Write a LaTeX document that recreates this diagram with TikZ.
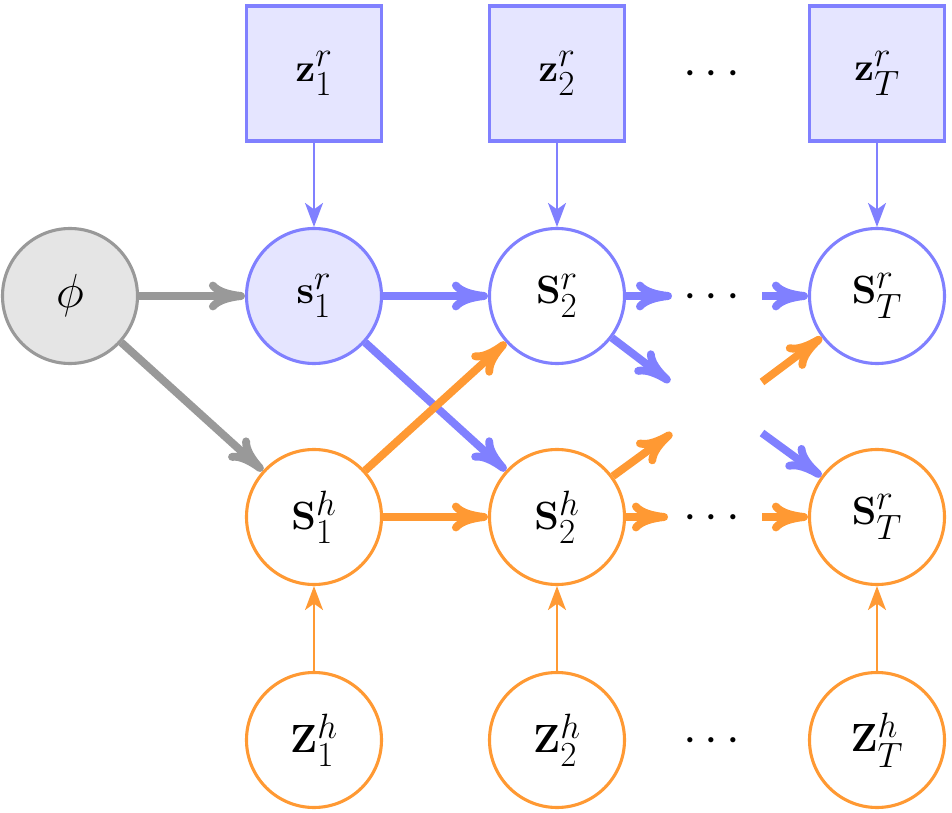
\documentclass[tikz,border=0pt]{standalone}
\usepackage{fix-cm}
\usepackage{amsmath}
\usepackage{xcolor}
\usepackage{tikz}
\usetikzlibrary{positioning}
\usetikzlibrary{arrows.meta}

\DeclareMathSizes{28}{28}{25}{18}
\DeclareMathSizes{34}{34}{27}{20}

\begin{document}
\begin{tikzpicture}[
    font=\fontsize{28}{33}\selectfont,
    prior/.style={
        circle,
        draw=black!40,
        fill=black!10,
        line width=2.2pt,
        minimum size=3.375cm,
        inner sep=0pt,
        font=\fontsize{34}{40}\selectfont
    },
    robs/.style={
        draw=blue!50,
        fill=blue!10,
        line width=2.2pt,
        minimum size=3.375cm,
        inner sep=0pt
    },
    rstate/.style={
        circle,
        draw=blue!50,
        line width=2.2pt,
        minimum size=3.375cm,
        inner sep=0pt
    },
    hstate/.style={
        circle,
        draw=orange!80,
        line width=2.2pt,
        minimum size=3.375cm,
        inner sep=0pt
    },
    ellip/.style={
        font=\fontsize{35}{40}\selectfont,
        text height=17.5pt,
        text depth=0pt,
        inner sep=0pt
    },
    flow/.style={
        line width=5.6pt,
        -{To[length=0.9cm,width=0.72cm]}
    },
    feed/.style={
        line width=1.5pt,
        -{Stealth[length=0.6cm,width=0.45cm,inset=0.16cm]}
    }
]
\useasboundingbox (0,0) rectangle (23.8,-20.325);

% --- Prior
\node[prior] (phi) at (1.75,-7.4) {$\phi$};

% --- Top row
\node[robs] (zr1) at (7.85,-1.8375) {$\mathbf{z}^r_1$};
\node[robs] (zr2) at (13.925,-1.8375) {$\mathbf{z}^r_2$};
\node[ellip] (zrdots) at (17.9,-1.8375) {$\cdots$};
\node[robs] (zrT) at (21.925,-1.8375) {$\mathbf{z}^r_T$};

% --- Robot row
\node[rstate, fill=blue!10] (sr1) at (7.85,-7.4) {$\mathbf{s}^r_1$};
\node[rstate] (sr2) at (13.925,-7.4) {$\mathbf{S}^r_2$};
\node[ellip] (srdots) at (17.9,-7.4) {$\cdots$};
\node[rstate] (srT) at (21.925,-7.4) {$\mathbf{S}^r_T$};

% --- Human row
\node[hstate] (sh1) at (7.85,-12.925) {$\mathbf{S}^h_1$};
\node[hstate] (sh2) at (13.925,-12.925) {$\mathbf{S}^h_2$};
\node[ellip] (shdots) at (17.9,-12.925) {$\cdots$};
\node[hstate] (shT) at (21.925,-12.925) {$\mathbf{S}^r_T$};

% --- Bottom row
\node[hstate] (zh1) at (7.85,-18.5) {$\mathbf{Z}^h_1$};
\node[hstate] (zh2) at (13.925,-18.5) {$\mathbf{Z}^h_2$};
\node[ellip] (zhdots) at (17.9,-18.5) {$\cdots$};
\node[hstate] (zhT) at (21.925,-18.5) {$\mathbf{Z}^h_T$};

% --- Loose ends around the dots
\coordinate (ra) at (16.8,-7.4);
\coordinate (rb) at (19.05,-7.4);
\coordinate (xa) at (16.75,-9.55);
\coordinate (xb) at (19.05,-9.55);
\coordinate (ya) at (16.8,-10.825);
\coordinate (yb) at (19.05,-10.825);
\coordinate (ha) at (16.7,-12.925);
\coordinate (hb) at (19.05,-12.925);

% --- Connections
\draw[flow, black!40] (phi) -- (sr1);
\draw[flow, black!40] (phi) -- (sh1);

\draw[flow, blue!50] (sr1) -- (sr2);
\draw[flow, blue!50] (sr1) -- (sh2);
\draw[flow, orange!80] (sh1) -- (sr2);
\draw[flow, orange!80] (sh1) -- (sh2);

\draw[flow, blue!50] (sr2) -- (ra);
\draw[flow, blue!50] (sr2) -- (xa);
\draw[flow, orange!80] (sh2) -- (ya);
\draw[flow, orange!80] (sh2) -- (ha);

\draw[flow, blue!50] (rb) -- (srT);
\draw[flow, orange!80] (xb) -- (srT);
\draw[flow, blue!50] (yb) -- (shT);
\draw[flow, orange!80] (hb) -- (shT);

\draw[feed, blue!50] (zr1) -- (sr1);
\draw[feed, blue!50] (zr2) -- (sr2);
\draw[feed, blue!50] (zrT) -- (srT);
\draw[feed, orange!80] (zh1) -- (sh1);
\draw[feed, orange!80] (zh2) -- (sh2);
\draw[feed, orange!80] (zhT) -- (shT);

\end{tikzpicture}
\end{document}
